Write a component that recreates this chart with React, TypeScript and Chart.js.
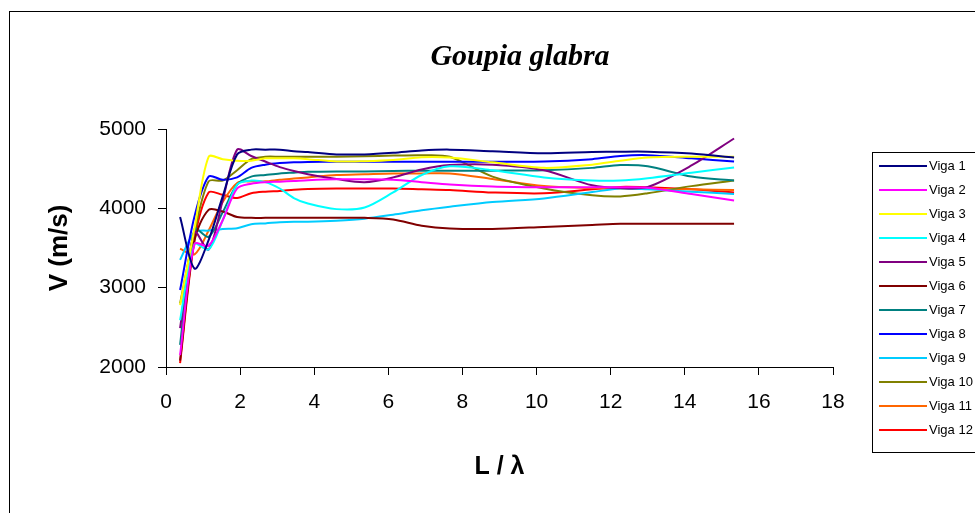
import React, { useEffect, useRef } from "react";
import { Chart, registerables } from "chart.js";

Chart.register(...registerables);

const TITLE = "Goupia glabra";
const X_TITLE = "L / λ";
const Y_TITLE = "V (m/s)";

const xValues = [0.38, 0.77, 1.15, 1.53, 1.92, 2.3, 2.68, 3.07, 3.45, 3.83, 4.6, 5.36, 6.13, 6.9, 7.66, 8.81, 10.2, 11.5, 12.26, 13.0, 14.18, 15.33];

const seriesNames = ["Viga 1", "Viga 2", "Viga 3", "Viga 4", "Viga 5", "Viga 6", "Viga 7", "Viga 8", "Viga 9", "Viga 10", "Viga 11", "Viga 12"];
const seriesColors = ["#000080", "#FF00FF", "#FFFF00", "#00FFFF", "#800080", "#800000", "#008080", "#0000FF", "#00CCFF", "#808000", "#FF6600", "#FF0000"];

const viga1 = [3890, 3240, 3600, 4150, 4680, 4740, 4740, 4740, 4720, 4710, 4680, 4680, 4700, 4730, 4740, 4720, 4695, 4710, 4714, 4714, 4690, 4640];
const viga2 = [2150, 3550, 3530, 3850, 4250, 4310, 4330, 4336, 4345, 4355, 4366, 4366, 4360, 4330, 4300, 4275, 4265, 4265, 4265, 4260, 4180, 4100];
const viga3 = [2780, 3750, 4650, 4620, 4600, 4600, 4630, 4630, 4630, 4620, 4590, 4595, 4610, 4645, 4640, 4580, 4510, 4550, 4600, 4640, 4650, 4650];
const viga4 = [2590, 3550, 3480, 3850, 4300, 4350, 4330, 4250, 4130, 4060, 3990, 4010, 4200, 4420, 4530, 4480, 4390, 4350, 4350, 4380, 4450, 4515];
const viga5 = [2490, 3700, 3480, 4100, 4740, 4660, 4590, 4520, 4470, 4430, 4370, 4330, 4390, 4490, 4545, 4550, 4480, 4290, 4255, 4270, 4540, 4880];
const viga6 = [2080, 3600, 3980, 3960, 3890, 3880, 3880, 3880, 3880, 3880, 3880, 3880, 3860, 3780, 3745, 3740, 3765, 3790, 3805, 3805, 3805, 3805];
const viga7 = [2280, 3740, 3640, 3950, 4300, 4400, 4420, 4440, 4450, 4460, 4465, 4465, 4470, 4475, 4475, 4475, 4480, 4510, 4546, 4530, 4400, 4350];
const viga8 = [2970, 3900, 4400, 4360, 4390, 4510, 4550, 4570, 4580, 4585, 4588, 4588, 4588, 4588, 4588, 4588, 4590, 4620, 4660, 4670, 4630, 4590];
const viga9 = [3350, 3700, 3720, 3740, 3750, 3800, 3810, 3825, 3832, 3832, 3845, 3870, 3920, 3975, 4020, 4080, 4125, 4205, 4250, 4240, 4210, 4180];
const viga10 = [2800, 3700, 4340, 4350, 4480, 4620, 4650, 4650, 4650, 4650, 4650, 4655, 4665, 4670, 4650, 4400, 4250, 4165, 4150, 4190, 4280, 4350];
const viga11 = [3490, 3420, 3720, 4080, 4320, 4340, 4340, 4360, 4375, 4390, 4420, 4430, 4440, 4440, 4440, 4370, 4280, 4255, 4250, 4245, 4240, 4230];
const viga12 = [2050, 3600, 4200, 4170, 4130, 4190, 4210, 4220, 4235, 4245, 4250, 4250, 4250, 4240, 4230, 4200, 4190, 4240, 4270, 4265, 4240, 4200];

const seriesValues = [viga1, viga2, viga3, viga4, viga5, viga6, viga7, viga8, viga9, viga10, viga11, viga12];

const W = 975;
const H = 513;

const decorPlugin = {
  id: "decor",
  beforeDraw(chart: any) {
    const ctx = chart.ctx;
    ctx.save();
    ctx.fillStyle = "#ffffff";
    ctx.fillRect(0, 0, W, H);
    ctx.strokeStyle = "#000000";
    ctx.lineWidth = 1;
    ctx.strokeRect(9.5, 11.5, W + 20, H + 20);
    ctx.restore();
  },
  afterDraw(chart: any) {
    const ctx = chart.ctx;
    ctx.save();
    ctx.fillStyle = "#000";
    ctx.font = "italic bold 30px 'Liberation Serif', 'Times New Roman', serif";
    ctx.textAlign = "center";
    ctx.textBaseline = "middle";
    ctx.fillText(TITLE, 520, 57);
    const lx = 872.5;
    const ly = 152.5;
    ctx.strokeStyle = "#000";
    ctx.lineWidth = 1;
    ctx.strokeRect(lx, ly, 200, 300);
    ctx.font = "13px 'Liberation Sans', Arial, sans-serif";
    ctx.textAlign = "left";
    ctx.textBaseline = "middle";
    seriesNames.forEach((name, i) => {
      const y = 166 + i * 24;
      ctx.strokeStyle = seriesColors[i];
      ctx.lineWidth = 2;
      ctx.beginPath();
      ctx.moveTo(879, y);
      ctx.lineTo(927, y);
      ctx.stroke();
      ctx.fillStyle = "#000";
      ctx.fillText(name, 929, y);
    });
    ctx.restore();
  },
};

export default function App() {
  const ref = useRef<HTMLCanvasElement | null>(null);

  useEffect(() => {
    if (!ref.current) return;
    const datasets = seriesNames.map((name, i) => ({
      label: name,
      data: xValues.map((x, j) => ({ x, y: seriesValues[i][j] })),
      borderColor: seriesColors[i],
      backgroundColor: seriesColors[i],
      borderWidth: 2,
      pointRadius: 0,
      tension: 0.3,
      fill: false,
    }));
    const tickFont = { family: "'Liberation Sans', Arial, sans-serif", size: 21 };
    const chart = new Chart(ref.current, {
      type: "line",
      data: { datasets },
      plugins: [decorPlugin],
      options: {
        animation: false,
        responsive: false,
        devicePixelRatio: 1,
        layout: { padding: { left: 0, top: 129, right: 142, bottom: 0 } },
        plugins: {
          legend: { display: false },
          title: { display: false },
          tooltip: { enabled: false },
        },
        scales: {
          x: {
            type: "linear",
            min: 0,
            max: 18,
            afterFit: (axis: any) => {
              axis.height = 146;
            },
            ticks: { stepSize: 2, color: "#000", font: tickFont, padding: 15, maxRotation: 0, callback: (v: any) => String(v) },
            grid: { drawOnChartArea: false, drawTicks: true, tickLength: 8, color: "#000" },
            border: { display: true, color: "#000", width: 1 },
            title: {
              display: true,
              text: X_TITLE,
              color: "#000",
              font: { family: "'Liberation Sans', Arial, sans-serif", size: 25, weight: "bold" },
              padding: { top: 0, bottom: 31 },
            },
          },
          y: {
            type: "linear",
            min: 2000,
            max: 5000,
            afterFit: (axis: any) => {
              axis.width = 166;
            },
            ticks: { stepSize: 1000, color: "#000", font: tickFont, padding: 12, callback: (v: any) => String(v) },
            grid: { drawOnChartArea: false, drawTicks: true, tickLength: 8, color: "#000" },
            border: { display: true, color: "#000", width: 1 },
            title: {
              display: true,
              text: Y_TITLE,
              color: "#000",
              font: { family: "'Liberation Sans', Arial, sans-serif", size: 26, weight: "bold" },
              padding: { top: 44, bottom: 0 },
            },
          },
        },
      },
    } as any);
    return () => chart.destroy();
  }, []);

  return (
    <div style={{ position: "absolute", left: 0, top: 0, width: W, height: H }}>
      <canvas ref={ref} width={W} height={H} style={{ width: W, height: H, display: "block" }} />
    </div>
  );
}
